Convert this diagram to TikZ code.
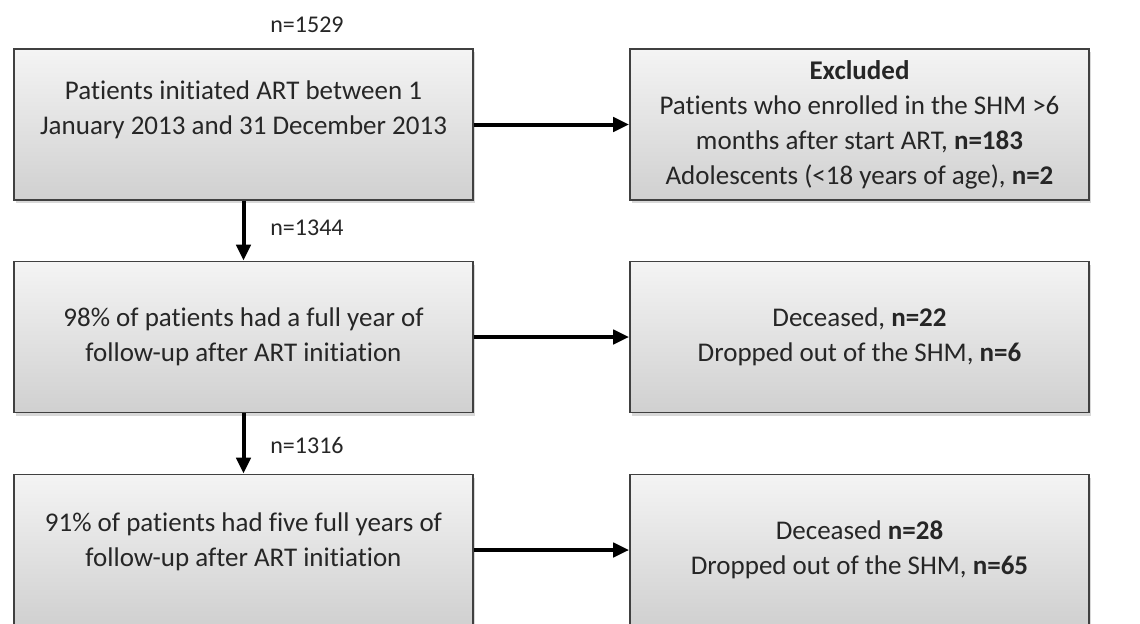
\documentclass[tikz,border=0pt]{standalone}
\usepackage{fontspec}
\setmainfont{Carlito}[Ligatures=NoCommon]
\usetikzlibrary{arrows.meta,shadows}
\definecolor{boxtop}{HTML}{F4F4F4}
\definecolor{boxbottom}{HTML}{D0D0D0}
\definecolor{boxline}{HTML}{404040}
\definecolor{txt}{HTML}{262626}
\tikzset{
  flowbox/.style={draw=boxline,line width=0.8pt,top color=boxtop,bottom color=boxbottom,
    minimum width=229.5pt,minimum height=75.5pt,inner sep=0pt,align=center,text=txt,
    font=\fontsize{13.5}{17.5}\selectfont,
    drop shadow={shadow xshift=1pt,shadow yshift=-1.5pt,opacity=0.3,fill=gray}},
  count/.style={text=txt,font=\fontsize{12}{14}\selectfont},
  arr/.style={line width=2pt,-{Triangle[length=8pt,width=7pt]}}
}
\begin{document}
\begin{tikzpicture}[x=0.5pt,y=-0.5pt]
\fill[white] (0,0) rectangle (1140,623);
\useasboundingbox (0,0) rectangle (1140,623);
% the main column
\node[flowbox,text depth=17pt] (b1) at (243.5,124.5) {Patients initiated ART between 1\\January 2013 and 31 December 2013};
\node[flowbox] (b2) at (243.5,337) {98\% of patients had a full year of\\follow-up after ART initiation};
\node[flowbox,text depth=10.5pt] (b3) at (243.5,550) {91\% of patients had five full years of\\follow-up after ART initiation};
% the boxes on the right
\node[flowbox] (e1) at (859.5,124.5) {\textbf{Excluded}\\Patients who enrolled in the SHM >6\\months after start ART, \textbf{n=183}\\Adolescents (<18 years of age), \textbf{n=2}};
\node[flowbox] (e2) at (859.5,337) {Deceased, \textbf{n=22}\\Dropped out of the SHM, \textbf{n=6}};
\node[flowbox] (e3) at (859.5,550) {Deceased \textbf{n=28}\\Dropped out of the SHM, \textbf{n=65}};
% the counts
\node[count] (n1) at (307,25) {n=1529};
\node[count] (n2) at (307,228) {n=1344};
\node[count] (n3) at (307,445) {n=1316};
% the arrows
\foreach \i/\j in {1/2,2/3}
  \draw[arr] (b\i) -- (b\j);
\foreach \i in {1,2,3}
  \draw[arr] (b\i) -- (e\i);
\end{tikzpicture}
\end{document}
